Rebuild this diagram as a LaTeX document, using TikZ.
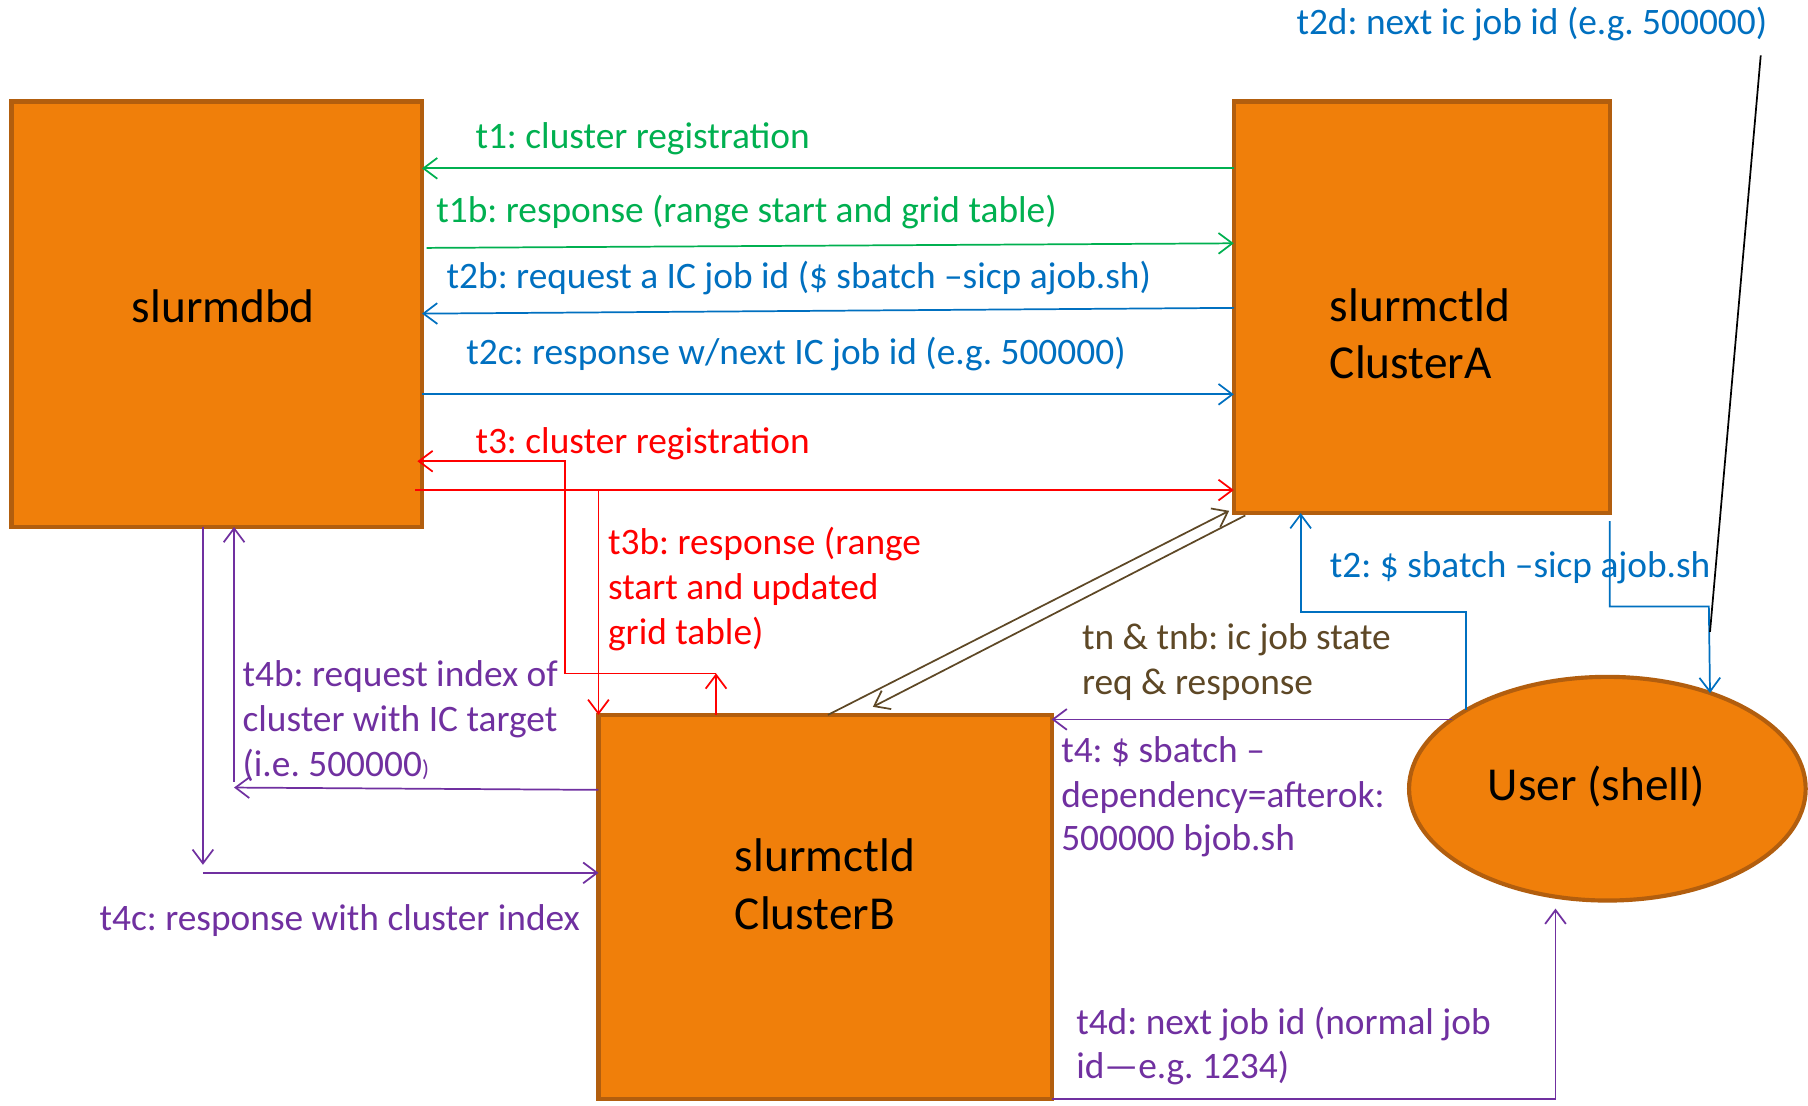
\documentclass[tikz,border=0pt]{standalone}
\usepackage{fontspec}
\setmainfont{Carlito}
\usetikzlibrary{arrows.meta,shapes.geometric,calc}
\definecolor{boxfill}{RGB}{240,127,10}
\definecolor{boxline}{RGB}{178,94,14}
\definecolor{cgreen}{RGB}{0,176,80}
\definecolor{cblue}{RGB}{0,112,192}
\definecolor{cred}{RGB}{255,0,0}
\definecolor{cpurple}{RGB}{112,48,160}
\definecolor{cbrown}{RGB}{94,72,38}
\frenchspacing
\begin{document}
\begin{tikzpicture}[x=0.5pt,y=-0.5pt,
  box/.style={draw=boxline,fill=boxfill,line width=1.8pt,inner sep=0pt,outer sep=0pt},
  boxtxt/.style={font=\fontsize{20.5pt}{25pt}\selectfont,inner sep=0pt,anchor=base west},
  lab/.style={font=\fontsize{16.2pt}{19.5pt}\selectfont,inner sep=0pt,anchor=base west},
  conn/.style={line width=0.75pt,-{Straight Barb[length=6pt,width=9pt]}},
  plainline/.style={line width=0.75pt}]
\useasboundingbox (0,0) rectangle (1568,959);
\fill[white] (0,0) rectangle (1568,959);

% shapes
\node[box,rectangle,minimum width=178pt,minimum height=184.5pt] (dbd) at (188,272.5) {};
\node[box,rectangle,minimum width=163pt,minimum height=178.5pt] (ca) at (1233,266.5) {};
\node[box,rectangle,minimum width=196.5pt,minimum height=166.5pt] (cb) at (715.5,786.5) {};
\node[box,ellipse,minimum width=172pt,minimum height=97pt] (user) at (1394,684) {};

% box texts
\node[boxtxt] (dbdtxt) at (114,280) {slurmdbd};
\node[boxtxt] (catxt1) at (1153,279) {slurmctld};
\node[boxtxt] (catxt2) at (1153,328) {ClusterA};
\node[boxtxt] (cbtxt1) at (637,756) {slurmctld};
\node[boxtxt] (cbtxt2) at (637,806) {ClusterB};
\node[boxtxt] (usertxt) at (1290,694) {User (shell)};

% green
\draw[conn,cgreen] (ca.west |- 0,146) -- (dbd.east |- 0,146);
\draw[conn,cgreen] ($(dbd.east |- 0,215)+(4,0)$) -- (ca.west |- 0,211);
\node[lab,text=cgreen] (t1) at (412,129) {t1: cluster registration};
\node[lab,text=cgreen] (t1b) at (378,193) {t1b: response (range start and grid table)};

% blue
\draw[conn,cblue] (ca.west |- 0,267) -- (dbd.east |- 0,272);
\draw[conn,cblue] (dbd.east |- 0,342) -- (ca.west |- 0,342);
\node[lab,text=cblue] (t2b) at (387,250) {t2b: request a IC job id (\$ sbatch –sicp ajob.sh)};
\node[lab,text=cblue] (t2c) at (404,316) {t2c: response w/next IC job id (e.g. 500000)};

% red
\coordinate (r1) at (621,584);
\draw[conn,cred] (cb.north -| r1) -- (r1);
\draw[conn,cred] (r1) -- (490,584) -- (490,400) -- ($(dbd.east |- 0,400)+(-4,0)$);
\draw[conn,cred] ($(dbd.east |- 0,425)+(-6,0)$) -- (ca.west |- 0,425);
\coordinate (r2) at (519,425);
\draw[conn,cred] (r2) -- (cb.north -| r2);
\node[lab,text=cred] (t3) at (412,393) {t3: cluster registration};
\node[lab,text=cred] (t3b1) at (527,481) {t3b: response (range};
\node[lab,text=cred] (t3b2) at (527,520) {start and updated};
\node[lab,text=cred] (t3b3) at (527,559) {grid table)};

% brown
\draw[conn,cbrown] (cb.north -| 718,0) -- ($(ca.south west)+(-4,-2)$);
\draw[conn,cbrown] ($(ca.south west)+(10,2)$) -- (757,613);
\node[lab,text=cbrown] (tn1) at (938,563) {tn \& tnb: ic job state};
\node[lab,text=cbrown] (tn2) at (938,602) {req \& response};

% blue t2 / t2d
\draw[conn,cblue] (user.151) |- (1128,531) -- (ca.south -| 1128,0);
\node[lab,text=cblue] (t2) at (1153,501) {t2: \$ sbatch –sicp ajob.sh};
\draw[conn,cblue] ($(ca.south east)+(0,7)$) -- (1396,526) -- (1482,526) -- (user.43.5);
\node[lab,text=cblue] (t2d) at (1124,30) {t2d: next ic job id (e.g. 500000)};
\coordinate (calloutA) at (1527,48);
\coordinate (calloutB) at (1483,548);
\draw[plainline,black] (calloutA) -- (calloutB);

% purple
\draw[conn,cpurple] (user.156) -- (cb.east |- user.156);
\node[lab,text=cpurple] (t41) at (920,661) {t4: \$ sbatch –};
\node[lab,text=cpurple] (t42) at (920,700) {dependency=afterok:};
\node[lab,text=cpurple] (t43) at (920,738) {500000 bjob.sh};

\draw[conn,cpurple] (cb.west |- 0,685) -- (203,683);
\draw[conn,cpurple] (203,678) -- (dbd.south -| 203,0);
\node[lab,text=cpurple] (t4b1) at (210,595) {t4b: request index of};
\node[lab,text=cpurple] (t4b2) at (210,634) {cluster with IC target};
\node[lab,text=cpurple] (t4b3) at (210,673) {(i.e. 500000{\fontsize{10pt}{12pt}\selectfont)}};

\draw[conn,cpurple] (dbd.south -| 176,0) -- (176,750);
\draw[conn,cpurple] (176,757) -- (cb.west |- 0,757);
\node[lab,text=cpurple] (t4c) at (86,807) {t4c: response with cluster index};

\coordinate (t4dtip) at (1349,788);
\draw[conn,cpurple] (cb.south east) -- (t4dtip |- cb.south east) -- (t4dtip);
\node[lab,text=cpurple] (t4d1) at (933,897) {t4d: next job id (normal job};
\node[lab,text=cpurple] (t4d2) at (933,935) {id—e.g. 1234)};
\end{tikzpicture}
\end{document}
